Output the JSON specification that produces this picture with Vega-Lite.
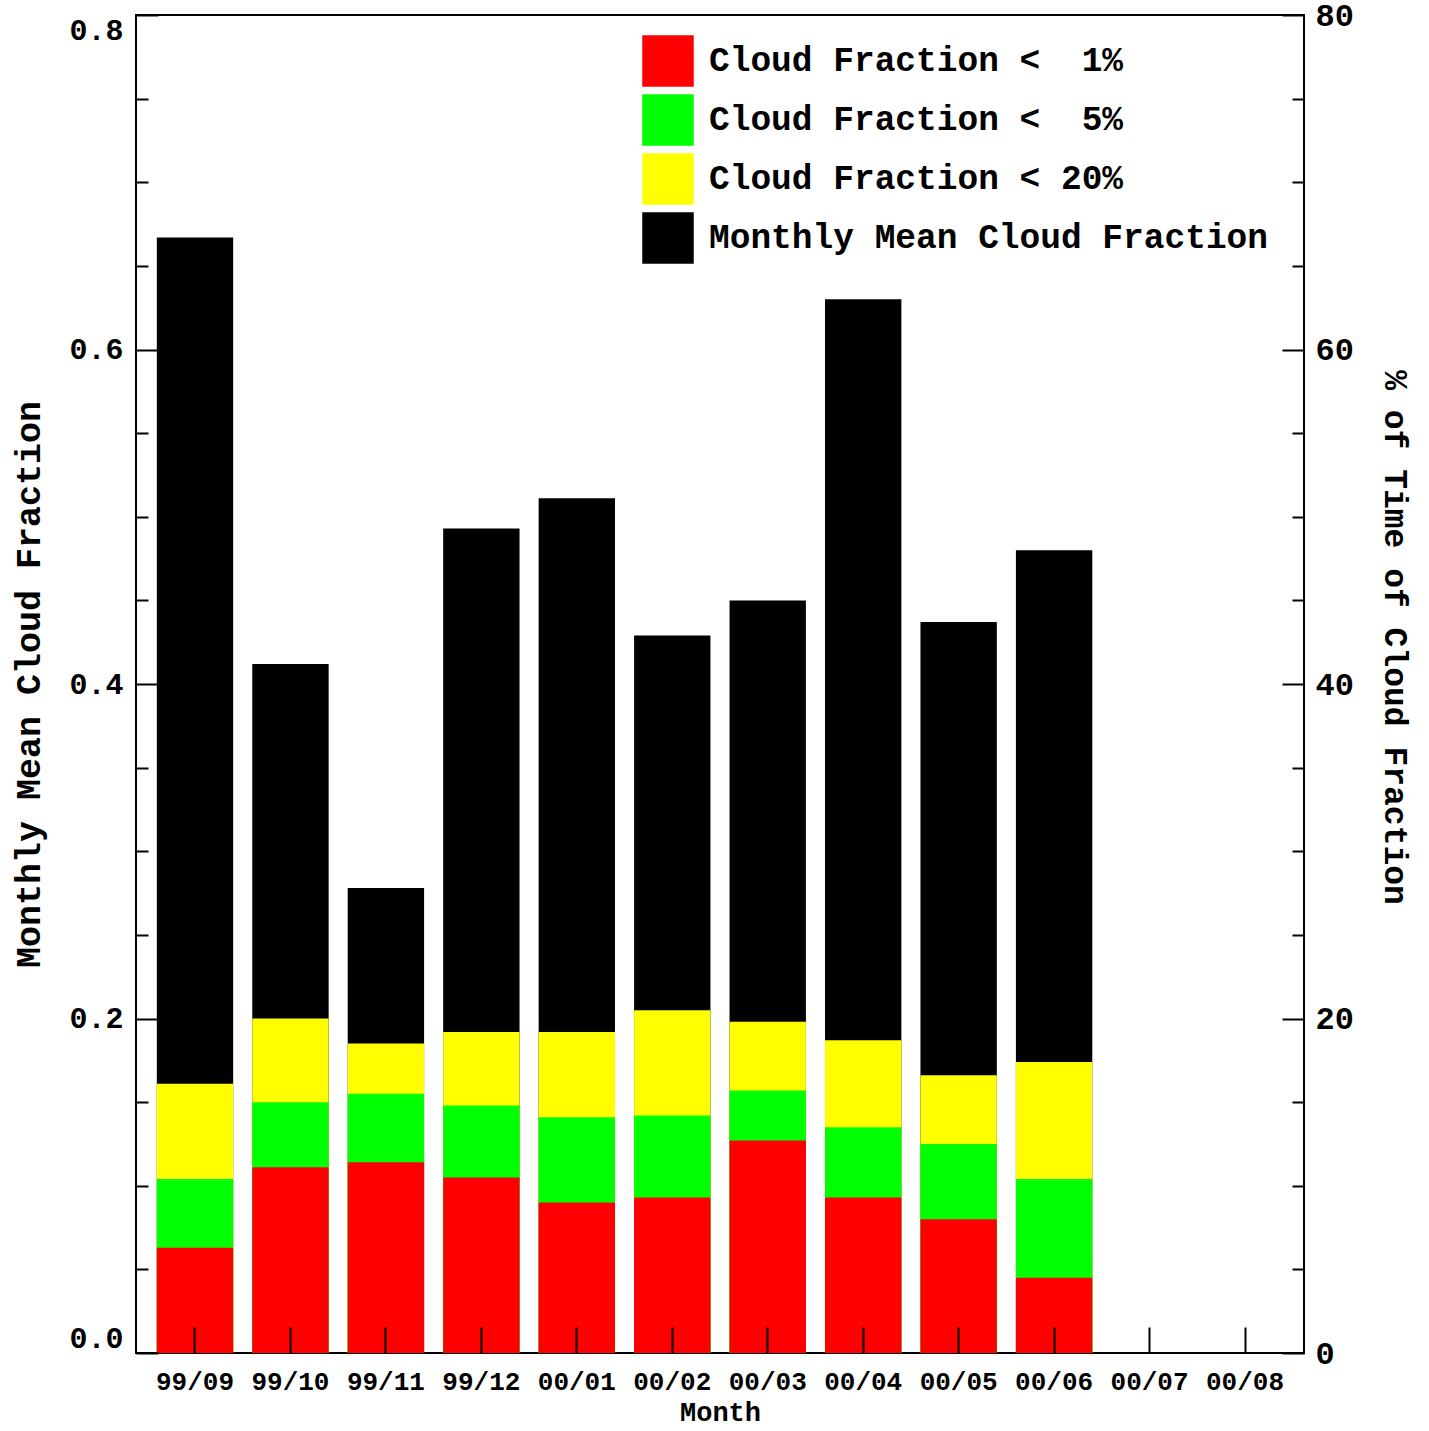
{
  "$schema": "https://vega.github.io/schema/vega-lite/v6.json",
  "autosize": {"type": "none"},
  "padding": {"left": 136, "top": 15, "right": 125, "bottom": 78},
  "width": 1168,
  "height": 1338,
  "background": "white",
  "config": {
    "view": {"stroke": "black", "strokeWidth": 2},
    "font": "Liberation Mono",
    "axis": {"domain": false, "grid": false, "tickColor": "black", "tickWidth": 2, "labelColor": "black", "titleColor": "black", "labelFont": "Liberation Mono", "titleFont": "Liberation Mono", "labelFontWeight": "bold", "titleFontWeight": "bold"},
    "legend": {"orient": "none", "legendX": 506, "legendY": 20, "symbolType": "square", "symbolSize": 2650, "symbolStrokeWidth": 0, "symbolOpacity": 1, "labelFont": "Liberation Mono", "labelFontSize": 34.5, "labelFontWeight": "bold", "labelColor": "black", "labelOffset": 15, "labelLimit": 1000, "rowPadding": 7, "padding": 0}
  },
  "data": {"values": [
    {"month": "99/09", "series": "mean", "value": 0.667},
    {"month": "99/09", "series": "lt20", "value": 16.1},
    {"month": "99/09", "series": "lt5", "value": 10.4},
    {"month": "99/09", "series": "lt1", "value": 6.3},
    {"month": "99/10", "series": "mean", "value": 0.412},
    {"month": "99/10", "series": "lt20", "value": 20.0},
    {"month": "99/10", "series": "lt5", "value": 15.0},
    {"month": "99/10", "series": "lt1", "value": 11.1},
    {"month": "99/11", "series": "mean", "value": 0.278},
    {"month": "99/11", "series": "lt20", "value": 18.5},
    {"month": "99/11", "series": "lt5", "value": 15.5},
    {"month": "99/11", "series": "lt1", "value": 11.4},
    {"month": "99/12", "series": "mean", "value": 0.493},
    {"month": "99/12", "series": "lt20", "value": 19.2},
    {"month": "99/12", "series": "lt5", "value": 14.8},
    {"month": "99/12", "series": "lt1", "value": 10.5},
    {"month": "00/01", "series": "mean", "value": 0.511},
    {"month": "00/01", "series": "lt20", "value": 19.2},
    {"month": "00/01", "series": "lt5", "value": 14.1},
    {"month": "00/01", "series": "lt1", "value": 9.0},
    {"month": "00/02", "series": "mean", "value": 0.429},
    {"month": "00/02", "series": "lt20", "value": 20.5},
    {"month": "00/02", "series": "lt5", "value": 14.2},
    {"month": "00/02", "series": "lt1", "value": 9.3},
    {"month": "00/03", "series": "mean", "value": 0.450},
    {"month": "00/03", "series": "lt20", "value": 19.8},
    {"month": "00/03", "series": "lt5", "value": 15.7},
    {"month": "00/03", "series": "lt1", "value": 12.7},
    {"month": "00/04", "series": "mean", "value": 0.630},
    {"month": "00/04", "series": "lt20", "value": 18.7},
    {"month": "00/04", "series": "lt5", "value": 13.5},
    {"month": "00/04", "series": "lt1", "value": 9.3},
    {"month": "00/05", "series": "mean", "value": 0.437},
    {"month": "00/05", "series": "lt20", "value": 16.6},
    {"month": "00/05", "series": "lt5", "value": 12.5},
    {"month": "00/05", "series": "lt1", "value": 8.0},
    {"month": "00/06", "series": "mean", "value": 0.480},
    {"month": "00/06", "series": "lt20", "value": 17.4},
    {"month": "00/06", "series": "lt5", "value": 10.4},
    {"month": "00/06", "series": "lt1", "value": 4.5}
  ]},
  "encoding": {
    "x": {
      "field": "month", "type": "ordinal",
      "scale": {"domain": ["99/09","99/10","99/11","99/12","00/01","00/02","00/03","00/04","00/05","00/06","00/07","00/08"], "paddingInner": 0.2, "paddingOuter": 0.218},
      "axis": {"title": "Month", "zindex": 2, "labelAngle": 0, "tickSize": -26, "labelPadding": 41, "labelFontSize": 26, "titleFontSize": 27, "titlePadding": 5}
    },
    "color": {
      "field": "series", "type": "nominal",
      "scale": {"domain": ["lt1","lt5","lt20","mean"], "range": ["#ff0000","#00ff00","#ffff00","#000000"]},
      "legend": {"title": null, "labelExpr": "datum.value === 'lt1' ? 'Cloud Fraction <\u00a0\u00a01%' : datum.value === 'lt5' ? 'Cloud Fraction <\u00a0\u00a05%' : datum.value === 'lt20' ? 'Cloud Fraction < 20%' : 'Monthly Mean Cloud Fraction'"}
    }
  },
  "layer": [
    {
      "transform": [{"filter": "datum.series === 'mean'"}],
      "mark": {"type": "bar", "opacity": 1},
      "encoding": {
        "y": {"field": "value", "type": "quantitative", "stack": null,
          "scale": {"domain": [0, 0.8], "nice": false},
          "axis": {"orient": "left", "zindex": 2, "title": "Monthly Mean Cloud Fraction", "values": [0, 0.2, 0.4, 0.6, 0.8], "format": ".1f", "tickSize": -22, "labelPadding": 35, "labelFlush": true, "labelFontSize": 30, "titleFontSize": 35, "titlePadding": 22}
        }
      }
    },
    {
      "transform": [{"filter": "datum.series !== 'mean'"}],
      "mark": {"type": "bar", "opacity": 1},
      "encoding": {
        "y": {"field": "value", "type": "quantitative", "stack": null,
          "scale": {"domain": [0, 80], "nice": false},
          "axis": {"orient": "right", "zindex": 2, "title": "% of Time of Cloud Fraction", "values": [0, 20, 40, 60, 80], "tickSize": -22, "labelPadding": 33, "labelFlush": false, "labelFontSize": 32, "titleFontSize": 33, "titlePadding": 24, "titleY": 622}
        }
      }
    },
    {
      "transform": [{"filter": "datum.series === 'mean'"}],
      "mark": {"type": "bar", "opacity": 0},
      "encoding": {
        "color": {"value": "transparent"},
        "y": {"field": "value", "type": "quantitative", "stack": null,
          "scale": {"domain": [0, 0.8], "nice": false},
          "axis": {"orient": "left", "zindex": 2, "title": null, "labels": false, "values": [0.05, 0.1, 0.15, 0.25, 0.3, 0.35, 0.45, 0.5, 0.55, 0.65, 0.7, 0.75], "tickSize": -12}
        }
      }
    },
    {
      "transform": [{"filter": "datum.series === 'mean'"}],
      "mark": {"type": "bar", "opacity": 0},
      "encoding": {
        "color": {"value": "transparent"},
        "y": {"field": "value", "type": "quantitative", "stack": null,
          "scale": {"domain": [0, 0.8], "nice": false},
          "axis": {"orient": "right", "zindex": 2, "title": null, "labels": false, "values": [0.05, 0.1, 0.15, 0.25, 0.3, 0.35, 0.45, 0.5, 0.55, 0.65, 0.7, 0.75], "tickSize": -12}
        }
      }
    }
  ],
  "resolve": {"scale": {"y": "independent"}}
}
